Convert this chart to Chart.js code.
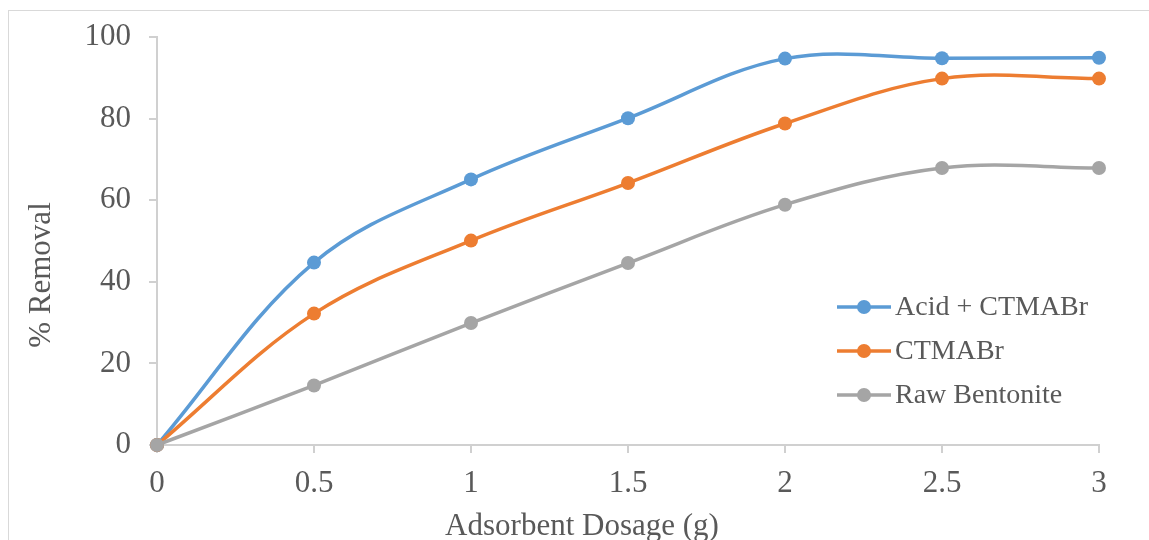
<!DOCTYPE html>
<html>
<head>
<meta charset="utf-8">
<title>% Removal vs Adsorbent Dosage</title>
<script src="https://cdn.jsdelivr.net/npm/chart.js@4.4.1/dist/chart.umd.min.js"></script>
<style>
    html, body { margin: 0; padding: 0; background: #fff; overflow: hidden; }
    #frame {
        position: absolute; left: 8px; top: 10px;
        width: 1300px; height: 700px;
        border: 1px solid #d9d9d9;
    }
    #chart { position: absolute; left: 0; top: 0; }
</style>
</head>
<body>
<div id="frame"></div>
<canvas id="chart" width="1149" height="540"></canvas>
<script>
// data
const dosage = [0, 0.5, 1, 1.5, 2, 2.5, 3];
const acidCtmabr = [0, 44.7, 65.1, 80.1, 94.7, 94.8, 94.9];
const ctmabr = [0, 32.2, 50.1, 64.2, 78.8, 89.8, 89.8];
const rawBentonite = [0, 14.6, 29.9, 44.6, 58.9, 67.9, 67.9];

const seriesNames = ["Acid + CTMABr", "CTMABr", "Raw Bentonite"];
const seriesColors = ["#5B9BD5", "#ED7D31", "#A5A5A5"];
const xTitle = "Adsorbent Dosage (g)";
const yTitle = "% Removal";

const textColor = "#595959";
const axisColor = "#d0d0d0";
const serif = "'Liberation Serif', 'Times New Roman', serif";

function toPoints(values) {
    return dosage.map((x, i) => ({ x: x, y: values[i] }));
}

const datasets = [acidCtmabr, ctmabr, rawBentonite].map((vals, i) => ({
    label: seriesNames[i],
    data: toPoints(vals),
    borderColor: seriesColors[i],
    backgroundColor: seriesColors[i],
    borderWidth: 3.5,
    pointRadius: 7,
    pointBorderWidth: 0,
    pointHoverRadius: 7,
    tension: 0.36,
    clip: false,
    fill: false,
    // later series sit on top, as in the original
    order: 2 - i
}));

// legend inside the plot, bottom right
const innerLegend = {
    id: "innerLegend",
    afterDraw(chart) {
        const ctx = chart.ctx;
        const area = chart.chartArea;
        const x0 = area.right - 262;
        const y0 = area.top + 270;
        ctx.save();
        ctx.font = "28px " + serif;
        ctx.textBaseline = "middle";
        ctx.textAlign = "left";
        chart.data.datasets.forEach((ds, i) => {
            const y = y0 + i * 44;
            ctx.strokeStyle = ds.borderColor;
            ctx.lineWidth = 3.5;
            ctx.beginPath();
            ctx.moveTo(x0, y);
            ctx.lineTo(x0 + 54, y);
            ctx.stroke();
            ctx.fillStyle = ds.borderColor;
            ctx.beginPath();
            ctx.arc(x0 + 27, y, 7, 0, Math.PI * 2);
            ctx.fill();
            ctx.fillStyle = textColor;
            ctx.fillText(ds.label, x0 + 58, y + 1);
        });
        ctx.restore();
    }
};

// axis titles, placed where the original has them
const axisTitles = {
    id: "axisTitles",
    afterDraw(chart) {
        const ctx = chart.ctx;
        const area = chart.chartArea;
        ctx.save();
        ctx.font = "31px " + serif;
        ctx.fillStyle = textColor;
        ctx.textAlign = "center";
        ctx.textBaseline = "alphabetic";
        ctx.fillText(xTitle, area.left + 425, area.bottom + 90);
        ctx.translate(50, area.top + 238);
        ctx.rotate(-Math.PI / 2);
        ctx.fillText(yTitle, 0, 0);
        ctx.restore();
    }
};

new Chart(document.getElementById("chart"), {
    type: "line",
    data: { datasets: datasets },
    options: {
        responsive: false,
        animation: false,
        layout: { padding: { top: 37, right: 50, left: 0, bottom: 0 } },
        plugins: {
            legend: { display: false },
            tooltip: { enabled: false }
        },
        scales: {
            x: {
                type: "linear",
                min: 0,
                max: 3,
                afterFit(scale) { scale.height = 95; },
                ticks: {
                    stepSize: 0.5,
                    color: textColor,
                    padding: 12,
                    font: { family: serif, size: 31 },
                    callback: v => String(v)
                },
                grid: { drawOnChartArea: false, drawTicks: true, tickLength: 8, color: axisColor, lineWidth: 2 },
                border: { display: true, color: axisColor, width: 2 }
            },
            y: {
                min: 0,
                max: 100,
                afterFit(scale) { scale.width = 157; },
                ticks: {
                    stepSize: 20,
                    color: textColor,
                    padding: 18,
                    font: { family: serif, size: 31 },
                    callback: v => String(v)
                },
                grid: { drawOnChartArea: false, drawTicks: true, tickLength: 8, color: axisColor, lineWidth: 2 },
                border: { display: true, color: axisColor, width: 2 }
            }
        }
    },
    plugins: [innerLegend, axisTitles]
});
</script>
</body>
</html>
